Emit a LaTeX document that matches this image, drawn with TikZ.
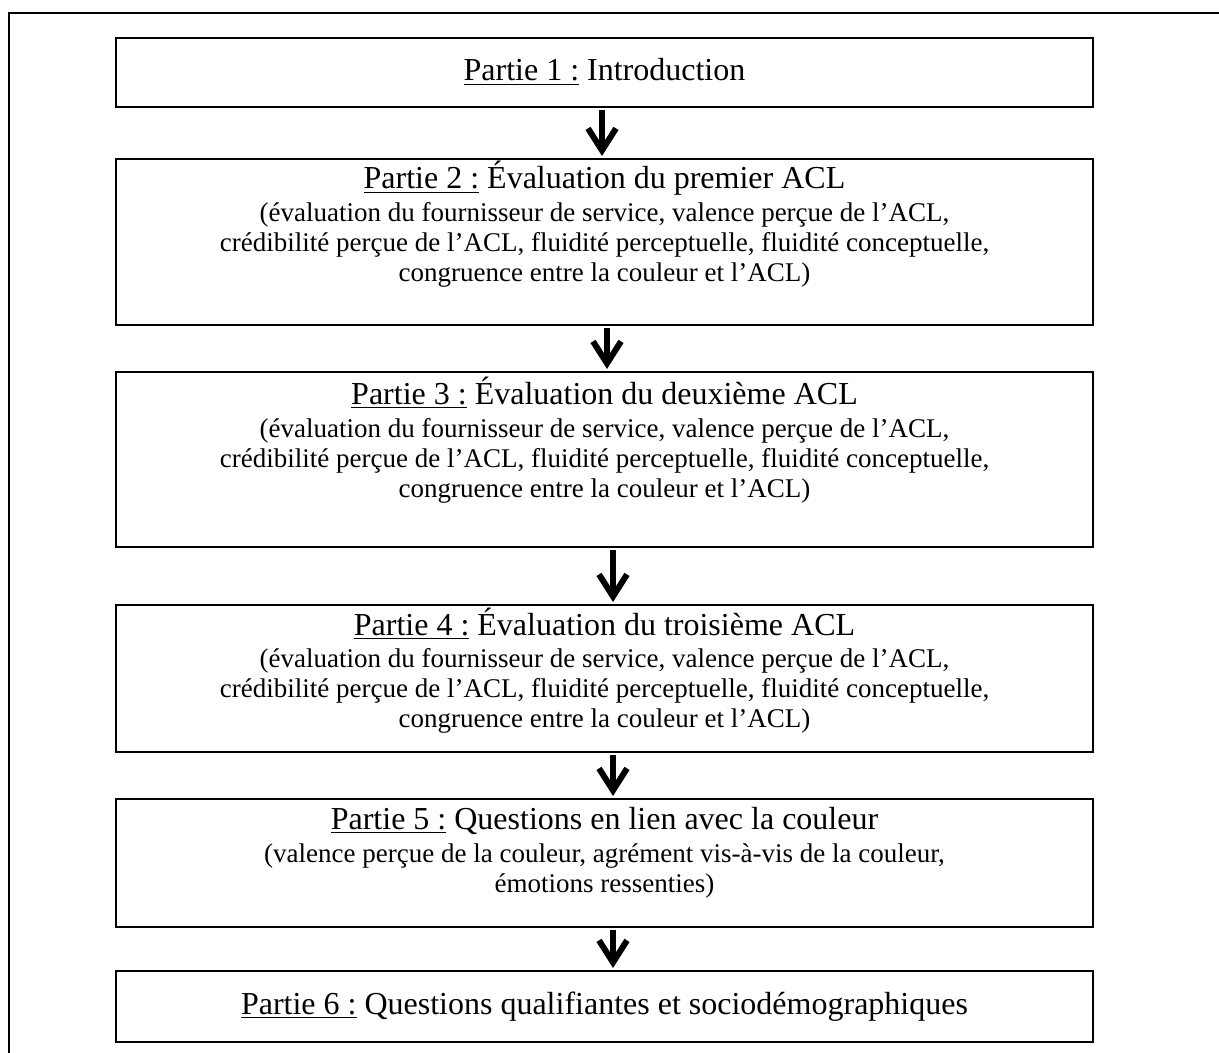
\documentclass[tikz,border=0pt]{standalone}
\usepackage{fontspec}
\setmainfont{Liberation Serif}
\usetikzlibrary{arrows.meta}
\newcommand{\ttlfont}{\fontsize{16}{19}\selectfont}
\newcommand{\subfnt}{\fontsize{13.5}{15}\selectfont}
\tikzset{
  box/.style={draw=black, line width=1pt, minimum width=488.5pt, inner sep=0pt, fill=none},
  ttl/.style={anchor=base, inner sep=0pt, font=\ttlfont},
  sub/.style={anchor=base, inner sep=0pt, font=\subfnt},
  flow/.style={line width=3pt, -{Straight Barb[length=11pt,width=14pt]}},
  frame/.style={line width=1pt}
}
\begin{document}
\begin{tikzpicture}[x=0.5pt,y=-0.5pt]
\useasboundingbox (0,0) rectangle (1219,1053);
\draw[frame] (9,1070) -- (9,13) -- (1240,13);
% boxes
\node[box, minimum height=34.5pt] (b1) at (604.5,72.5) {};
\node[box, minimum height=83pt] (b2) at (604.5,242) {};
\node[box, minimum height=87.5pt] (b3) at (604.5,459.5) {};
\node[box, minimum height=73.5pt] (b4) at (604.5,678.5) {};
\node[box, minimum height=64pt] (b5) at (604.5,863) {};
\node[box, minimum height=35.5pt] (b6) at (604.5,1006.5) {};
% texts
\node[ttl] (t1) at (604.5,81) {\underline{Partie 1 :} Introduction};
\node[ttl] (t2) at (604.5,189) {\underline{Partie 2 :} Évaluation du premier ACL};
\node[sub] (s2) at (604.5,222) {\begin{tabular}[t]{@{}c@{}}(évaluation du fournisseur de service, valence perçue de l’ACL,\\crédibilité perçue de l’ACL, fluidité perceptuelle, fluidité conceptuelle,\\congruence entre la couleur et l’ACL)\end{tabular}};
\node[ttl] (t3) at (604.5,404) {\underline{Partie 3 :} Évaluation du deuxième ACL};
\node[sub] (s3) at (604.5,437) {\begin{tabular}[t]{@{}c@{}}(évaluation du fournisseur de service, valence perçue de l’ACL,\\crédibilité perçue de l’ACL, fluidité perceptuelle, fluidité conceptuelle,\\congruence entre la couleur et l’ACL)\end{tabular}};
\node[ttl] (t4) at (604.5,635) {\underline{Partie 4 :} Évaluation du troisième ACL};
\node[sub] (s4) at (604.5,667) {\begin{tabular}[t]{@{}c@{}}(évaluation du fournisseur de service, valence perçue de l’ACL,\\crédibilité perçue de l’ACL, fluidité perceptuelle, fluidité conceptuelle,\\congruence entre la couleur et l’ACL)\end{tabular}};
\node[ttl] (t5) at (604.5,829) {\underline{Partie 5 :} Questions en lien avec la couleur};
\node[sub] (s5) at (604.5,862) {\begin{tabular}[t]{@{}c@{}}(valence perçue de la couleur, agrément vis-à-vis de la couleur,\\émotions ressenties)\end{tabular}};
\node[ttl] (t6) at (604.5,1014) {\underline{Partie 6 :} Questions qualifiantes et sociodémographiques};
% arrows
\draw[flow] ([xshift=-1.25pt,yshift=-1pt]b1.south) -- ([xshift=-1.25pt,yshift=1pt]b2.north);
\draw[flow] ([xshift=1.25pt,yshift=-1pt]b2.south) -- ([xshift=1.25pt,yshift=1pt]b3.north);
\draw[flow] ([xshift=4.25pt,yshift=-1pt]b3.south) -- ([xshift=4.25pt,yshift=1pt]b4.north);
\draw[flow] ([xshift=4.25pt,yshift=-1pt]b4.south) -- ([xshift=4.25pt,yshift=1pt]b5.north);
\draw[flow] ([xshift=4.25pt,yshift=-1pt]b5.south) -- ([xshift=4.25pt,yshift=1pt]b6.north);
\end{tikzpicture}
\end{document}
